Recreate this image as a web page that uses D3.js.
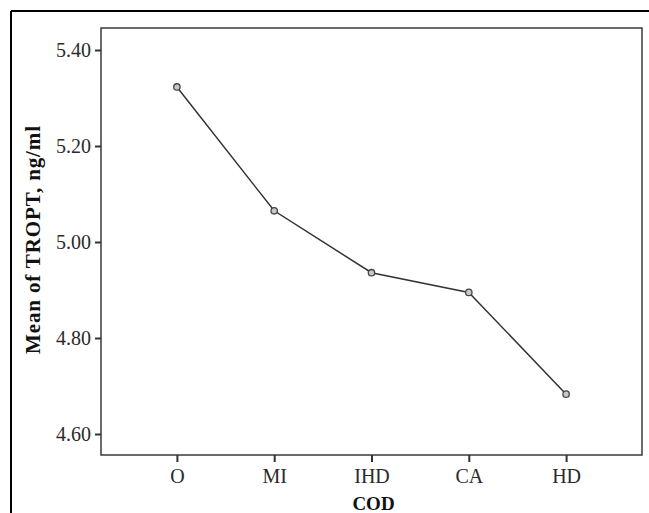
<!DOCTYPE html>
<html>
<head>
<meta charset="utf-8">
<script src="https://cdn.jsdelivr.net/npm/d3@7"></script>
<style>
  html, body { margin: 0; padding: 0; background: #fff; }
  svg { display: block; }
</style>
</head>
<body>
<svg id="chart" width="649" height="513"></svg>
<script>
const categories = ["O", "MI", "IHD", "CA", "HD"];
const meanValues = [5.323, 5.065, 4.936, 4.895, 4.683];
const yTicks = [4.60, 4.80, 5.00, 5.20, 5.40];
const xTitle = "COD";
const yTitle = "Mean of TROPT, ng/ml";

const svg = d3.select("#chart");
const W = 649, H = 513;
const frame = { left: 101, top: 28, right: 642, bottom: 455 };
const font = "'Liberation Serif', 'DejaVu Serif', serif";

// outer border (top and left visible)
svg.append("line").attr("x1", 11).attr("y1", 11).attr("x2", W).attr("y2", 11)
  .attr("stroke", "#000").attr("stroke-width", 2);
svg.append("line").attr("x1", 11).attr("y1", 11).attr("x2", 11).attr("y2", H)
  .attr("stroke", "#000").attr("stroke-width", 2);

const x = d3.scalePoint().domain(categories)
  .range([frame.left, frame.right]).padding(0.78);
const y = d3.scaleLinear().domain([4.60, 5.40]).range([434, 50]);

// plot frame
svg.append("rect")
  .attr("x", frame.left).attr("y", frame.top)
  .attr("width", frame.right - frame.left).attr("height", frame.bottom - frame.top)
  .attr("fill", "none").attr("stroke", "#3a3a3a").attr("stroke-width", 1.5);

// y axis
const yAxis = svg.append("g").attr("transform", `translate(${frame.left},0)`)
  .call(d3.axisLeft(y).tickValues(yTicks).tickFormat(d3.format(".2f"))
    .tickSize(6).tickPadding(4));
yAxis.select(".domain").remove();
yAxis.selectAll(".tick line").attr("stroke", "#333").attr("stroke-width", 2);
yAxis.selectAll(".tick text").attr("font-family", font).attr("font-size", 20)
  .attr("fill", "#2a2a2a");

// x axis
const xAxis = svg.append("g").attr("transform", `translate(0,${frame.bottom})`)
  .call(d3.axisBottom(x).tickSize(7).tickPadding(7));
xAxis.select(".domain").remove();
xAxis.selectAll(".tick line").attr("stroke", "#333").attr("stroke-width", 2);
xAxis.selectAll(".tick text").attr("font-family", font).attr("font-size", 20)
  .attr("fill", "#2a2a2a");

// titles
svg.append("text").attr("x", (frame.left + frame.right) / 2 + 2).attr("y", 510)
  .attr("text-anchor", "middle").attr("font-family", font)
  .attr("font-weight", "bold").attr("font-size", 19).attr("fill", "#111")
  .text(xTitle);
svg.append("text").attr("transform", `translate(40,240) rotate(-90)`)
  .attr("text-anchor", "middle").attr("font-family", font)
  .attr("font-weight", "bold").attr("font-size", 21).attr("fill", "#111")
  .attr("textLength", 228).attr("lengthAdjust", "spacing")
  .text(yTitle);

// line
const data = categories.map((c, i) => ({ c, v: meanValues[i] }));
svg.append("path").datum(data)
  .attr("fill", "none").attr("stroke", "#333").attr("stroke-width", 1.5)
  .attr("d", d3.line().x(d => x(d.c)).y(d => y(d.v)));

svg.selectAll("circle.pt").data(data).enter().append("circle")
  .attr("class", "pt")
  .attr("cx", d => x(d.c)).attr("cy", d => y(d.v)).attr("r", 3.2)
  .attr("fill", "#c8c8c8").attr("stroke", "#444").attr("stroke-width", 1.3);
</script>
</body>
</html>
